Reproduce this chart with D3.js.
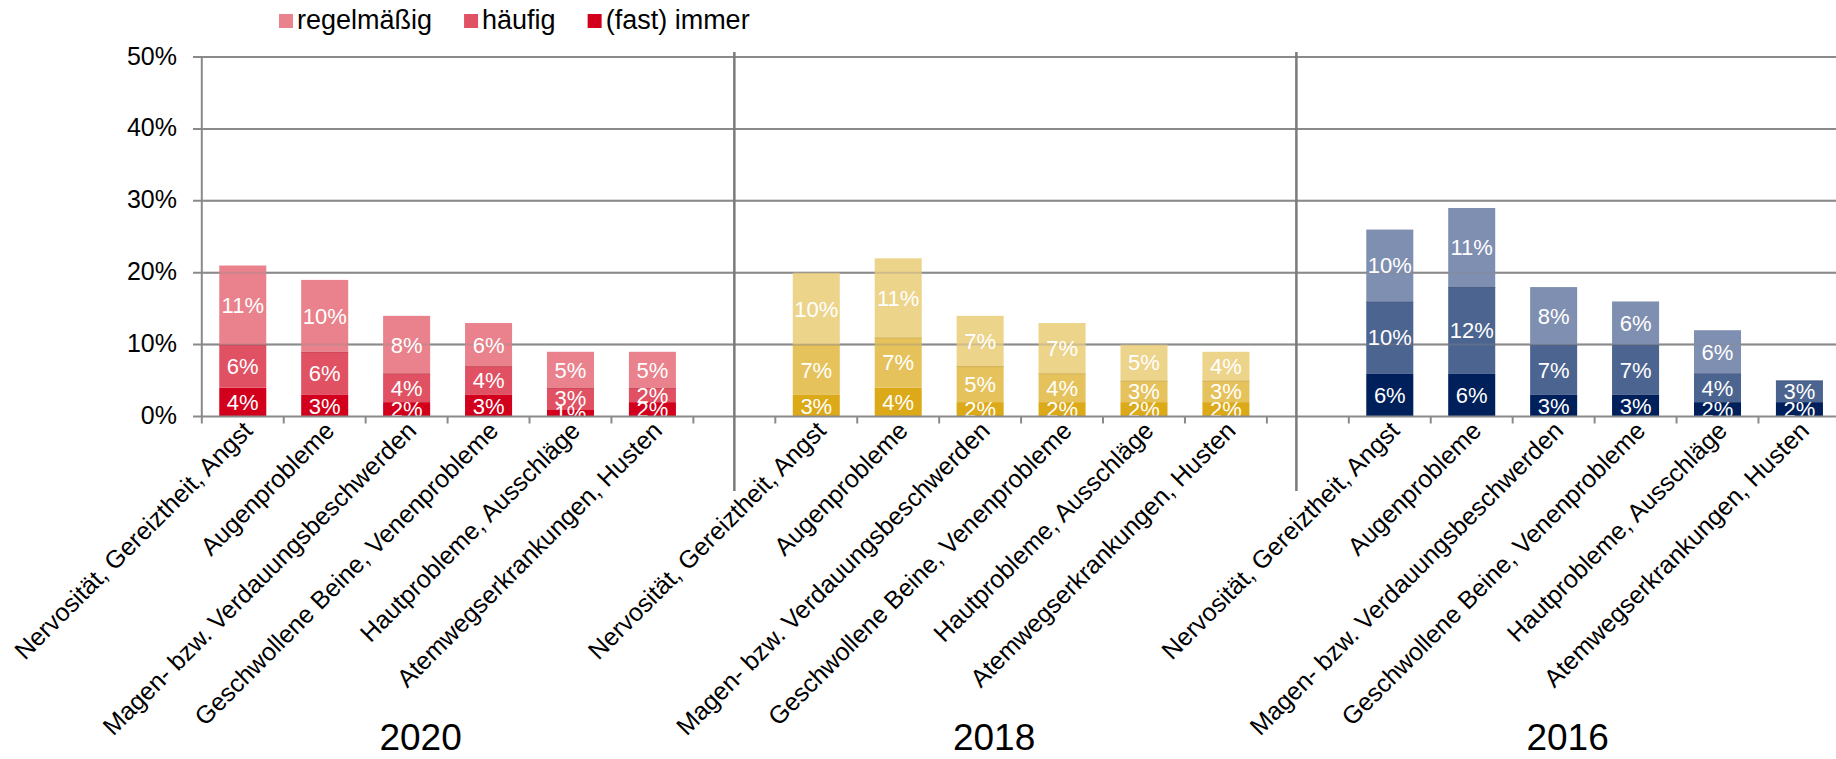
<!DOCTYPE html>
<html><head><meta charset="utf-8">
<script src="https://cdn.jsdelivr.net/npm/d3@7/dist/d3.min.js"></script>
<style>
html,body{margin:0;padding:0;background:#fff;}
svg{display:block;font-family:"Liberation Sans",Arial,sans-serif;}
</style></head>
<body>
<svg id="chart" width="1836" height="759"></svg>
<script>
// ---------- data ----------
const categories = ["Nervosität, Gereiztheit, Angst","Augenprobleme","Magen- bzw. Verdauungsbeschwerden","Geschwollene Beine, Venenprobleme","Hautprobleme, Ausschläge","Atemwegserkrankungen, Husten"];
const years = ["2020","2018","2016"];
const seriesNames = ["regelmäßig","häufig","(fast) immer"];
const fastImmer2020 = [4,3,2,3,1,2];
const haeufig2020 = [6,6,4,4,3,2];
const regelmaessig2020 = [11,10,8,6,5,5];
const fastImmer2018 = [3,4,2,2,2,2];
const haeufig2018 = [7,7,5,4,3,3];
const regelmaessig2018 = [10,11,7,7,5,4];
const fastImmer2016 = [6,6,3,3,2,2];
const haeufig2016 = [10,12,7,7,4,3];
const regelmaessig2016 = [10,11,8,6,6,0];
const yTicks = [0,10,20,30,40,50];
const colors2020 = ["#E9828C","#E05163","#D2001C"]; // regelmäßig, häufig, (fast) immer
const colors2018 = ["#EDD48B","#E6C25C","#DCA918"];
const colors2016 = ["#7F8FB1","#4C6490","#00205B"];

const groups = [
  {year: years[0], fast: fastImmer2020, hauf: haeufig2020, regel: regelmaessig2020, colors: colors2020},
  {year: years[1], fast: fastImmer2018, hauf: haeufig2018, regel: regelmaessig2018, colors: colors2018},
  {year: years[2], fast: fastImmer2016, hauf: haeufig2016, regel: regelmaessig2016, colors: colors2016}
];
const slotsPerGroup = categories.length + 1;
const nSlots = slotsPerGroup * groups.length - 1;
const separatorSlots = [6.5, 13.36];

// ---------- layout ----------
const svg = d3.select("#chart");
const W = 1836;
const x = d3.scaleBand().domain(d3.range(nSlots)).range([201.8, 1840.4]).padding(0);
const step = x.step();
const bw = step * 0.574;
const y = d3.scaleLinear().domain([0, 50]).range([416.5, 57]);
const gridColor = "#8A8A8A";

// gridlines under bars
svg.append("g").selectAll("line").data(yTicks.filter(d => d > 0)).join("line")
  .attr("x1", 193).attr("x2", W).attr("y1", d => y(d)).attr("y2", d => y(d))
  .attr("stroke", gridColor).attr("stroke-width", 2);

// y axis line
svg.append("line").attr("x1", x(0)).attr("x2", x(0)).attr("y1", y(50)).attr("y2", y(0))
  .attr("stroke", gridColor).attr("stroke-width", 2);

// bars
const segs = [];
groups.forEach((g, gi) => {
  categories.forEach((c, ci) => {
    const slot = gi * slotsPerGroup + ci;
    const vals = [g.fast[ci], g.hauf[ci], g.regel[ci]];
    const cols = [g.colors[2], g.colors[1], g.colors[0]];
    let base = 0;
    vals.forEach((v, si) => {
      segs.push({slot, y0: base, y1: base + v, v, color: cols[si], si, line: g.colors[1]});
      base += v;
    });
  });
});
const barG = svg.append("g");
barG.selectAll("rect").data(segs.filter(d => d.v > 0)).join("rect")
  .attr("x", d => x(d.slot) + (step - bw) / 2)
  .attr("width", bw)
  .attr("y", d => y(d.y1))
  .attr("height", d => y(d.y0) - y(d.y1))
  .attr("fill", d => d.color);
// thin boundary at top of "häufig" segments
barG.selectAll("line").data(segs.filter(d => d.si === 1 && d.v > 0)).join("line")
  .attr("x1", d => x(d.slot) + (step - bw) / 2)
  .attr("x2", d => x(d.slot) + (step + bw) / 2)
  .attr("y1", d => y(d.y1) + 0.5).attr("y2", d => y(d.y1) + 0.5)
  .attr("stroke", d => d3.color(d.line).darker(0.4)).attr("stroke-width", 1).attr("opacity", 0.7);

// gridlines over bars (translucent)
svg.append("g").selectAll("line").data(yTicks.filter(d => d > 0)).join("line")
  .attr("x1", 201.8).attr("x2", W).attr("y1", d => y(d)).attr("y2", d => y(d))
  .attr("stroke", gridColor).attr("stroke-width", 2).attr("opacity", 0.3);

// data labels
svg.append("g").selectAll("text").data(segs.filter(d => d.v > 0)).join("text")
  .attr("x", d => x(d.slot) + step / 2)
  .attr("y", d => (y(d.y0) + y(d.y1)) / 2)
  .attr("dy", "0.36em")
  .attr("text-anchor", "middle")
  .attr("fill", "#fff")
  .attr("font-size", 22)
  .text(d => d.v + "%");

// zero line + x ticks
svg.append("line").attr("x1", 193).attr("x2", W).attr("y1", y(0)).attr("y2", y(0))
  .attr("stroke", gridColor).attr("stroke-width", 2);
svg.append("g").selectAll("line").data(d3.range(nSlots + 1)).join("line")
  .attr("x1", d => x.range()[0] + d * step).attr("x2", d => x.range()[0] + d * step)
  .attr("y1", y(0)).attr("y2", y(0) + 7)
  .attr("stroke", gridColor).attr("stroke-width", 2);

// group separators
svg.append("g").selectAll("line").data(separatorSlots).join("line")
  .attr("x1", d => x.range()[0] + d * step).attr("x2", d => x.range()[0] + d * step)
  .attr("y1", 52).attr("y2", 491)
  .attr("stroke", "#7A7A7A").attr("stroke-width", 2.5);

// y labels
svg.append("g").selectAll("text").data(yTicks).join("text")
  .attr("x", 177).attr("y", d => y(d)).attr("dy", "0.3em")
  .attr("text-anchor", "end").attr("font-size", 25).attr("fill", "#000")
  .text(d => d + "%");

// category labels
const catLabels = [];
groups.forEach((g, gi) => categories.forEach((c, ci) => catLabels.push({slot: gi * slotsPerGroup + ci, c})));
svg.append("g").selectAll("text").data(catLabels).join("text")
  .attr("transform", d => `translate(${x(d.slot) + step / 2 + 5},426) rotate(-45)`)
  .attr("dy", "0.35em")
  .attr("text-anchor", "end").attr("font-size", 25).attr("fill", "#000")
  .text(d => d.c);

// year labels
svg.append("g").selectAll("text").data(groups).join("text")
  .attr("x", (d, gi) => x(gi * slotsPerGroup) + 3 * step - 27)
  .attr("y", 750)
  .attr("text-anchor", "middle").attr("font-size", 37).attr("fill", "#000")
  .text(d => d.year);

// legend
const leg = svg.append("g");
let lx = 279;
seriesNames.forEach((s, i) => {
  leg.append("rect").attr("x", lx).attr("y", 14).attr("width", 14).attr("height", 14).attr("fill", colors2020[i]);
  const t = leg.append("text").attr("x", lx + 18).attr("y", 28.5).attr("font-size", 27).attr("fill", "#000").text(s);
  lx += 18 + t.node().getComputedTextLength() + 32;
});
</script>
</body></html>
